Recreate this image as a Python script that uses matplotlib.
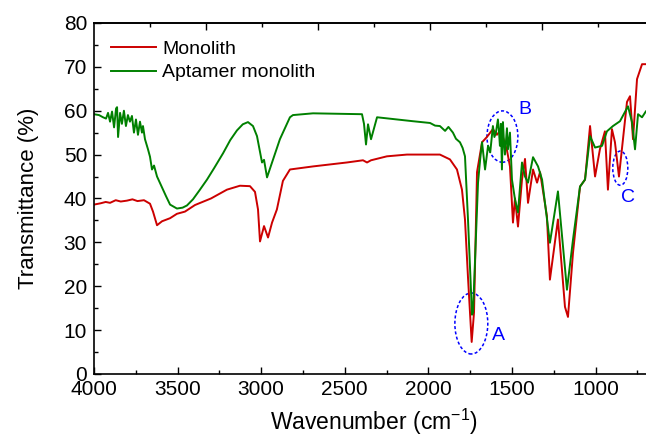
import numpy as np
import matplotlib
matplotlib.use('Agg')
import matplotlib.pyplot as plt
from matplotlib.patches import Ellipse
from matplotlib.ticker import MultipleLocator

# FTIR spectra: wavenumber (cm-1) and transmittance (%)
monolith_wn = [4000, 3960, 3930, 3904, 3870, 3840, 3803, 3770, 3740, 3701, 3665, 3647,
               3623, 3593, 3545, 3504, 3456, 3396, 3300, 3205, 3127, 3067, 3037, 3019,
               3007, 2983, 2959, 2935, 2906, 2870, 2828, 2690, 2487, 2391, 2367, 2343,
               2248, 2128, 1931, 1871, 1829, 1799, 1781, 1763, 1741, 1727, 1709, 1679,
               1650, 1614, 1590, 1570, 1554, 1530, 1512, 1494, 1482, 1464, 1440, 1422,
               1404, 1374, 1350, 1332, 1291, 1273, 1225, 1183, 1165, 1135, 1093, 1063,
               1033, 1003, 974, 944, 926, 902, 884, 860, 836, 812, 794, 776, 752, 722,
               650]
monolith_t = [38.6, 38.9, 39.2, 39.0, 39.6, 39.3, 39.5, 39.8, 39.4, 39.6, 38.8, 37.0,
              33.9, 34.8, 35.5, 36.5, 37.0, 38.5, 40.0, 42.0, 42.9, 42.8, 41.5, 37.5,
              30.2, 33.7, 31.1, 34.5, 37.5, 44.0, 46.6, 47.3, 48.2, 48.7, 48.2, 48.7,
              49.6, 50.0, 50.0, 48.9, 46.6, 42.0, 35.2, 22.0, 7.3, 14.0, 46.0, 52.8,
              54.0, 55.8, 54.5, 55.5, 54.0, 51.0, 47.3, 34.5, 40.0, 33.6, 44.3, 49.0,
              39.0, 46.6, 43.6, 46.0, 36.0, 21.5, 35.2, 15.3, 13.0, 27.6, 42.7, 44.3,
              56.5, 45.0, 51.2, 55.3, 42.0, 55.8, 52.8, 45.0, 53.5, 62.0, 63.3, 53.5,
              67.2, 70.6, 70.6]

aptamer_wn = [4000, 3970, 3946, 3928, 3916, 3904, 3892, 3880, 3868, 3862, 3856, 3844,
              3833, 3821, 3809, 3797, 3785, 3773, 3761, 3749, 3737, 3725, 3713, 3707,
              3695, 3677, 3665, 3653, 3641, 3623, 3605, 3587, 3569, 3545, 3504, 3470,
              3444, 3408, 3370, 3324, 3280, 3228, 3185, 3145, 3110, 3079, 3049, 3025,
              2995, 2983, 2965, 2935, 2888, 2828, 2810, 2690, 2397, 2385, 2373, 2361,
              2343, 2307, 2092, 1990, 1960, 1931, 1900, 1880, 1853, 1835, 1811, 1795,
              1781, 1763, 1739, 1733, 1703, 1690, 1679, 1661, 1643, 1630, 1614, 1605,
              1596, 1584, 1578, 1572, 1566, 1560, 1554, 1548, 1542, 1530, 1524, 1512,
              1500, 1482, 1464, 1440, 1422, 1404, 1374, 1344, 1320, 1273, 1225, 1171,
              1135, 1093, 1063, 1033, 1003, 961, 932, 896, 854, 806, 782, 764, 746, 722,
              698, 650]
aptamer_t = [59.2, 59.0, 58.5, 58.2, 59.5, 57.5, 59.8, 56.2, 60.5, 60.8, 54.0, 59.5,
             57.0, 60.0, 56.5, 59.0, 57.5, 58.8, 55.0, 58.0, 54.5, 57.5, 55.0, 56.5,
             53.5, 51.2, 49.5, 46.6, 47.5, 45.0, 43.5, 42.0, 40.5, 38.6, 37.7, 37.9,
             38.4, 39.8, 41.8, 44.3, 47.0, 50.3, 53.3, 55.5, 56.9, 57.4, 56.5, 54.2,
             48.2, 48.8, 44.8, 48.2, 53.5, 58.5, 59.0, 59.4, 59.2, 57.0, 52.3, 56.9,
             53.5, 58.5, 57.6, 57.2, 56.6, 56.5, 55.4, 56.3, 55.0, 53.6, 52.8, 51.5,
             49.6, 35.2, 13.5, 14.0, 43.6, 49.0, 52.8, 46.6, 52.0, 50.5, 56.5, 54.0,
             55.0, 58.0, 55.5, 52.0, 57.0, 46.6, 57.4, 53.0, 50.0, 56.0, 51.2, 55.0,
             44.3, 39.8, 36.8, 48.2, 45.0, 43.6, 49.4, 47.3, 44.3, 29.9, 41.6, 19.2,
             30.6, 42.7, 44.3, 54.2, 51.6, 52.0, 55.3, 56.5, 57.6, 61.0, 57.4, 51.2,
             59.2, 58.5, 59.9, 60.5]

# highlighted bands: (centre wn, centre %T, width wn, height %T, label, label wn, label %T)
bands = [
    (1743, 11.5, 197, 13.9, 'A', 1578, 8.7),
    (1557, 54.1, 185, 11.7, 'B', 1422, 60.3),
    (852, 46.9, 90, 7.8, 'C', 806, 40.2),
]

plt.rcParams['font.family'] = ['Liberation Sans', 'DejaVu Sans']
plt.rcParams['mathtext.default'] = 'regular'

fig = plt.figure(figsize=(6.46, 4.41), dpi=100)
ax = fig.add_axes([0.1455, 0.152, 0.867, 0.796])

ax.plot(monolith_wn, monolith_t, color='#cc0000', lw=1.4, label='Monolith')
ax.plot(aptamer_wn, aptamer_t, color='#008000', lw=1.4, label='Aptamer monolith')

for cx, cy, w, h, name, lx, ly in bands:
    ax.add_patch(Ellipse((cx, cy), w, h, fill=False, edgecolor='#0000ff',
                         lw=1.1, ls=(0, (2, 1.5))))
    ax.text(lx, ly, name, color='#0000ff', fontsize=14, ha='center', va='center')

ax.set_xlim(4000, 650)
ax.set_ylim(0, 80)
ax.xaxis.set_major_locator(MultipleLocator(500))
ax.xaxis.set_minor_locator(MultipleLocator(250))
ax.yaxis.set_major_locator(MultipleLocator(10))
ax.yaxis.set_minor_locator(MultipleLocator(5))
ax.tick_params(which='both', direction='in', labelsize=15, width=1)
ax.tick_params(which='major', length=5)
ax.tick_params(which='minor', length=3)
ax.tick_params(axis='x', pad=4)
ax.tick_params(axis='y', pad=5)
for s in ax.spines.values():
    s.set_linewidth(1.2)

# top axis divides the full range in five
top = ax.secondary_xaxis('top')
top.set_xticks([4000 - 670 * k for k in range(1, 5)])
top.set_xticks([4000 - 335 - 670 * k for k in range(0, 5)], minor=True)
top.tick_params(which='both', direction='in', labeltop=False, width=1)
top.tick_params(which='major', length=5)
top.tick_params(which='minor', length=3)
top.spines['top'].set_linewidth(1.2)

ax.set_xlabel('Wavenumber (cm$^{-1}$)', fontsize=16.5, labelpad=6)
ax.set_ylabel('Transmittance (%)', fontsize=16, labelpad=18)

ax.legend(loc='upper left', bbox_to_anchor=(0.0, 1.0), frameon=False, fontsize=14,
          handlelength=2.3, handletextpad=0.3, borderaxespad=0.5, borderpad=0.4,
          labelspacing=0.3)

fig.savefig('out.png', dpi=100)
